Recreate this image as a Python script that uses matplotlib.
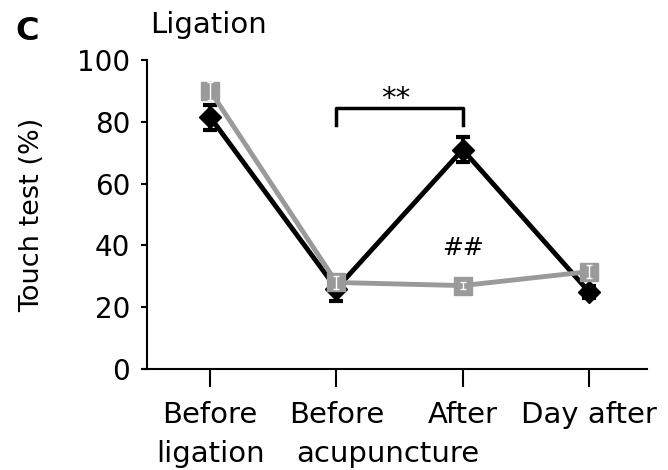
import matplotlib.pyplot as plt
import numpy as np

plt.rcParams['font.family'] = ['DejaVu Sans']

first_lines = ["Before", "Before", "After", "Day after"]
second_lines = ["ligation", "acupuncture", "", ""]
black_vals = [81.5, 26, 71, 25]
black_err = [4, 4, 4, 2]
gray_vals = [90, 28, 27, 31.5]
gray_err = [3, 2, 1, 2]
yticks = [0, 20, 40, 60, 80, 100]

gray = '#9a9a9a'
x = np.arange(len(first_lines))

fig = plt.figure(figsize=(6.68, 4.70), dpi=100)
ax = fig.add_axes([142 / 668, 1 - 369 / 470, 505 / 668, 309 / 470])

# black series
ax.errorbar(x, black_vals, yerr=black_err, color='black', lw=3.5, capsize=5,
            capthick=3, elinewidth=3, marker='D', markersize=11, zorder=2)
# gray series on top
ax.plot(x, gray_vals, color=gray, lw=3.5, marker='s', markersize=13, zorder=3)
ax.errorbar(x, gray_vals, yerr=gray_err, fmt='none', ecolor='white',
            elinewidth=1.0, capsize=2.5, capthick=1.0, zorder=4)

# significance marks
ax.plot([1, 1, 2, 2], [79, 84.5, 84.5, 79], color='black', lw=2.5, zorder=2)
ax.text(1.47, 84.8, "**", ha='center', va='baseline', fontsize=21)
ax.text(2.0, 39, "##", ha='center', va='center', fontsize=18)

ax.set_xlim(-0.54, 3.46)
ax.set_ylim(0, 100)
ax.set_yticks(yticks)
ax.set_xticks(x)
ax.set_xticklabels(first_lines, fontsize=21)
ax.tick_params(axis='y', labelsize=20, length=4, width=1.5, pad=8)
ax.tick_params(axis='x', length=13, width=1.5, pad=10)

# second line of the category labels
offsets = [0, 37, 0, 0]
for xi, txt, dx in zip(x, second_lines, offsets):
    if txt:
        ax.annotate(txt, xy=(xi, 0), xycoords=('data', 'axes fraction'),
                    xytext=(dx, -67), textcoords='offset points',
                    ha='center', va='baseline', fontsize=21)

for s in ['top', 'right']:
    ax.spines[s].set_visible(False)
ax.spines['left'].set_linewidth(1.5)
ax.spines['bottom'].set_linewidth(1.5)
ax.spines['left'].set_position(('outward', -3.6))

ax.set_ylabel("Touch test (%)", fontsize=19.5)
ax.yaxis.set_label_coords(-0.192, 0.5)
fig.text(150 / 668, 1 - 33 / 470, "Ligation", fontsize=21, va='baseline', ha='left')
fig.text(15 / 668, 1 - 40 / 470, "C", fontsize=23, fontweight='bold', va='baseline', ha='left')

fig.savefig("out.png", dpi=100)
